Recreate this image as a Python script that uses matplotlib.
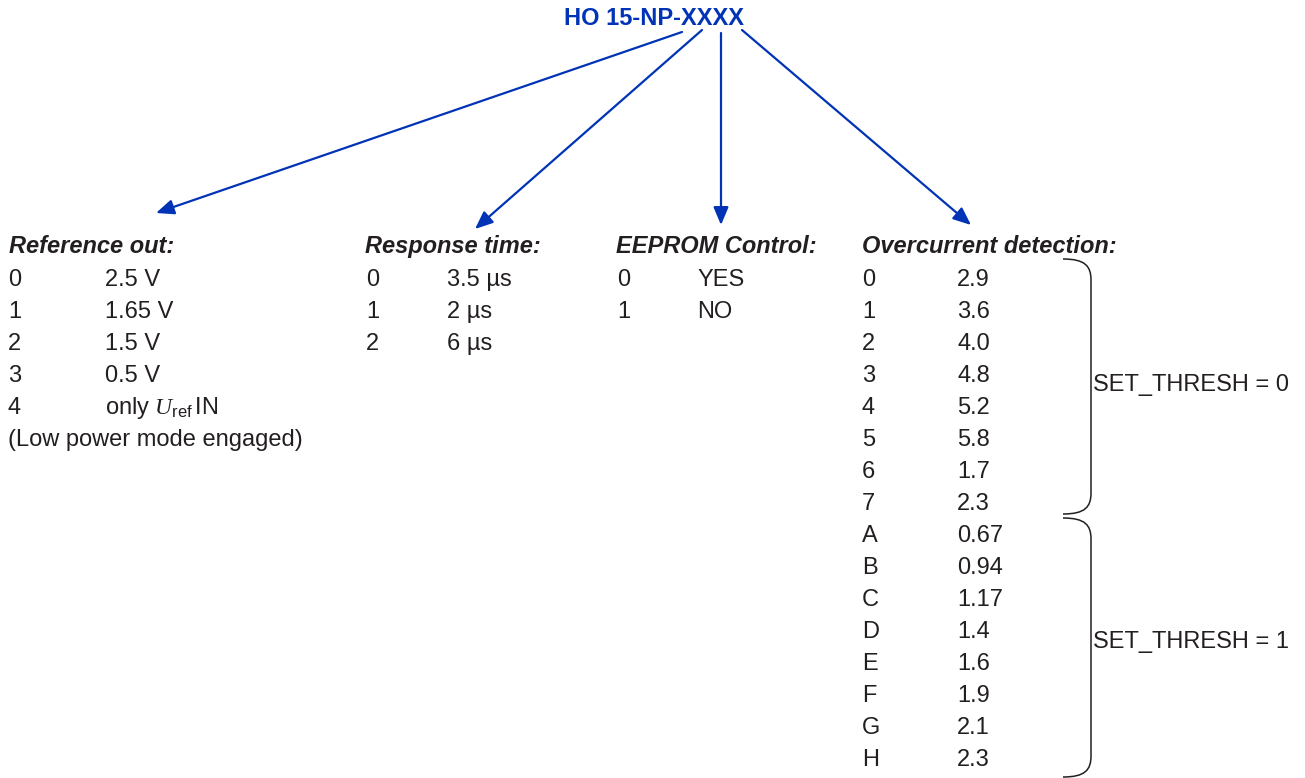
import matplotlib.pyplot as plt
from matplotlib.path import Path
from matplotlib.patches import PathPatch

plt.rcParams['font.family'] = ['Liberation Sans', 'DejaVu Sans']
plt.rcParams['mathtext.fontset'] = 'custom'
plt.rcParams['mathtext.rm'] = 'Liberation Sans'
plt.rcParams['mathtext.it'] = 'Liberation Serif:italic'

title = "HO 15-NP-XXXX"

ref_header = "Reference out:"
ref_keys = ["0", "1", "2", "3", "4"]
ref_values = ["2.5 V", "1.65 V", "1.5 V", "0.5 V", r"only $\mathit{U}_{\mathrm{ref}}\,$IN"]
ref_note = "(Low power mode engaged)"

resp_header = "Response time:"
resp_keys = ["0", "1", "2"]
resp_values = ["3.5 µs", "2 µs", "6 µs"]

eeprom_header = "EEPROM Control:"
eeprom_keys = ["0", "1"]
eeprom_values = ["YES", "NO"]

oc_header = "Overcurrent detection:"
oc_keys = ["0", "1", "2", "3", "4", "5", "6", "7",
           "A", "B", "C", "D", "E", "F", "G", "H"]
oc_values = ["2.9", "3.6", "4.0", "4.8", "5.2", "5.8", "1.7", "2.3",
             "0.67", "0.94", "1.17", "1.4", "1.6", "1.9", "2.1", "2.3"]
thresh_labels = ["SET_THRESH = 0", "SET_THRESH = 1"]

BLUE = '#0033b5'
TXT = '#231f20'
FS = 17

fig = plt.figure(figsize=(13.05, 7.78), dpi=100)
ax = fig.add_axes([0, 0, 1, 1])
ax.set_xlim(0, 1305)
ax.set_ylim(778, 0)
ax.axis('off')

ax.text(654, 25, title, ha='center', va='baseline', fontsize=17,
        fontweight='bold', color=BLUE)

# arrows from the part number down to each field
arrows = [((682, 32), (156, 213)),
          ((702, 30), (475, 229)),
          ((721, 33), (721, 225)),
          ((742, 30), (971, 225))]
for start, tip in arrows:
    ax.annotate("", xy=tip, xytext=start,
                arrowprops=dict(arrowstyle='-|>,head_length=0.9,head_width=0.38',
                                mutation_scale=12, color=BLUE, lw=1.6,
                                shrinkA=0, shrinkB=0))

header_y = 253
row0 = 286
step = 32


def column(header, keys, values, x_key, x_val, x_head):
    ax.text(x_head, header_y, header, ha='left', va='baseline', fontsize=FS,
            fontweight='bold', fontstyle='italic', color=TXT)
    for i, (k, v) in enumerate(zip(keys, values)):
        y = row0 + i * step
        ax.text(x_key, y, k, ha='left', va='baseline', fontsize=FS, color=TXT)
        ax.text(x_val, y, v, ha='left', va='baseline', fontsize=FS, color=TXT)


column(ref_header, ref_keys, ref_values, 8, 105, 9)
ax.text(8, row0 + len(ref_keys) * step, ref_note, ha='left', va='baseline',
        fontsize=FS, color=TXT)
column(resp_header, resp_keys, resp_values, 366, 447, 365)
column(eeprom_header, eeprom_keys, eeprom_values, 617, 697, 616)
column(oc_header, oc_keys, oc_values, 862, 957, 862)

# brackets on the right
def bracket(y0, y1):
    verts = [(1063, y0), (1085, y0), (1091, y0 + 7), (1091, y0 + 21),
             (1091, y1 - 21),
             (1091, y1 - 7), (1085, y1), (1063, y1)]
    codes = [Path.MOVETO, Path.CURVE4, Path.CURVE4, Path.CURVE4,
             Path.LINETO,
             Path.CURVE4, Path.CURVE4, Path.CURVE4]
    ax.add_patch(PathPatch(Path(verts, codes), fill=False, ec=TXT, lw=1.1))


bracket(259, 514)
bracket(518, 777)
ax.text(1093, 391, thresh_labels[0], ha='left', va='baseline', fontsize=FS, color=TXT)
ax.text(1093, 648, thresh_labels[1], ha='left', va='baseline', fontsize=FS, color=TXT)

fig.savefig('out.png', dpi=100)
